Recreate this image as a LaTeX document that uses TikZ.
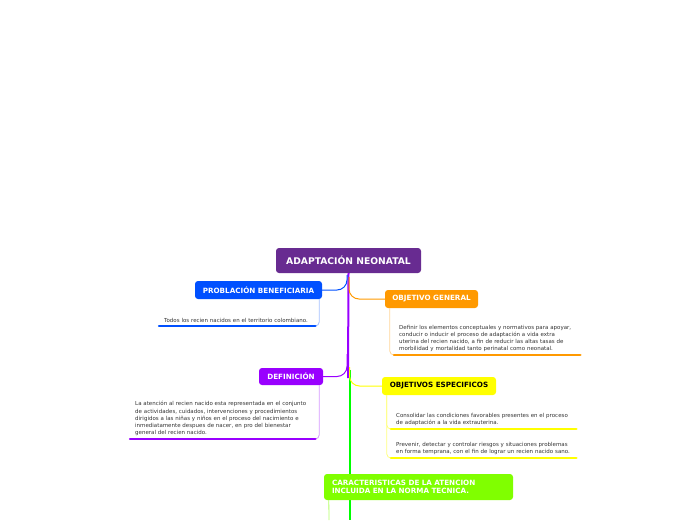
\documentclass[tikz,border=0pt]{standalone}
\usepackage{fontspec}
\setmainfont{DejaVu Sans}
\usetikzlibrary{positioning, calc}

\definecolor{rootcol}{HTML}{682B91}
\definecolor{bluecol}{HTML}{0050FF}
\definecolor{orangecol}{HTML}{FF9900}
\definecolor{violetcol}{HTML}{9900FF}
\definecolor{yellowcol}{HTML}{FFFF00}
\definecolor{limecol}{HTML}{80FF00}
\definecolor{trunkgreen}{HTML}{00FF00}
\definecolor{txtgray}{HTML}{333333}

\begin{document}
\begin{tikzpicture}[
        x=1pt, y=-1pt,
        topic/.style={
            rectangle,
            rounded corners=3pt,
            inner sep=0pt,
            text=white,
            font=\fontsize{7.2}{8.2}\selectfont\bfseries
        },
        note/.style={
            anchor=south west,
            inner xsep=5pt,
            inner ysep=3pt,
            align=left,
            text=txtgray,
            font=\fontsize{5.5}{7.2}\selectfont
        },
        branch/.style={line width=1pt, rounded corners=10pt},
        thinline/.style={line width=0.8pt, rounded corners=4pt},
        underline/.style={line width=2.4pt, line cap=round}
    ]
        \useasboundingbox (0,0) rectangle (696,520);

        % Central topic
        \node[topic, fill=rootcol, minimum width=145pt, minimum height=25pt,
              font=\fontsize{9.2}{10}\selectfont\bfseries] (root) at (348.5,260.5) {ADAPTACIÓN NEONATAL};

        % Trunk
        \coordinate (tpend) at (348,378);
        \coordinate (tgtop) at (349.5,370);
        \coordinate (tgend) at (349.5,520);
        \draw[line width=2pt, draw=violetcol] (root.south) -- (tpend);
        \draw[line width=2pt, draw=trunkgreen] (tgtop) -- (tgend);

        % Branch starts on the trunk
        \coordinate (sb) at (347,275);
        \coordinate (so) at (349,277);
        \coordinate (sd) at (347,354);
        \coordinate (sy) at (349.5,367);

        % Problacion beneficiaria
        \node[topic, fill=bluecol, minimum width=127pt, minimum height=18pt] (pb) at (258.5,290) {PROBLACIÓN BENEFICIARIA};
        \draw[branch, bluecol] (sb) |- (pb.east);
        \node[note, text width=146pt] (pbtxt) at (159,326) {Todos los recien nacidos en el territorio colombiano.};
        \draw[thinline, bluecol!35] ([xshift=-3pt]pb.south east) |- (pbtxt.south east);
        \draw[underline, bluecol] (pbtxt.south west) -- (pbtxt.south east);

        % Objetivo general
        \node[topic, fill=orangecol, minimum width=93pt, minimum height=18pt] (og) at (431.5,299) {OBJETIVO GENERAL};
        \draw[branch, orangecol] (so) |- (og.west);
        \node[note, text width=176pt] (ogtxt) at (394,355) {Definir los elementos conceptuales y normativos para apoyar,\\conducir o inducir el proceso de adaptación a vida extra\\uterina del recien nacido, a fin de reducir las altas tasas de\\morbilidad y mortalidad tanto perinatal como neonatal.};
        \draw[thinline, orangecol!40] ([xshift=5pt]og.south west) |- (ogtxt.south west);
        \draw[underline, orangecol] (ogtxt.south west) -- (ogtxt.south east);

        % Definicion
        \node[topic, fill=violetcol, minimum width=64pt, minimum height=17pt] (def) at (291,376.5) {DEFINICIÓN};
        \draw[branch, violetcol] (sd) |- (def.east);
        \node[note, text width=175pt] (deftxt) at (130,439) {La atención al recien nacido esta representada en el conjunto\\de actividades, cuidados, intervenciones y procedimientos\\dirigidos a las niñas y niños en el proceso del nacimiento e\\inmediatamente despues de nacer, en pro del bienestar\\general del recien nacido.};
        \draw[thinline, violetcol!40] ([xshift=-4pt]def.south east) |- (deftxt.south east);
        \draw[underline, violetcol] (deftxt.south west) -- (deftxt.south east);

        % Objetivos especificos
        \node[topic, fill=yellowcol, text=black, minimum width=114pt, minimum height=18pt] (oe) at (439,386) {OBJETIVOS ESPECIFICOS};
        \draw[branch, yellowcol] (sy) |- (oe.west);
        \node[note, text width=175pt] (oe1) at (391,429) {Consolidar las condiciones favorables presentes en el proceso\\de adaptación a la vida extrauterina.};
        \node[note, text width=175pt] (oe2) at (391,458) {Prevenir, detectar y controlar riesgos y situaciones problemas\\en forma temprana, con el fin de lograr un recien nacido sano.};
        \draw[thinline, yellowcol!50] ([xshift=5pt]oe.south west) |- (oe1.south west);
        \draw[thinline, yellowcol!50] ([xshift=5pt]oe.south west) |- (oe2.south west);
        \draw[underline, yellowcol] (oe1.south west) -- (oe1.south east);
        \draw[underline, yellowcol] (oe2.south west) -- (oe2.south east);

        % Caracteristicas de la atencion
        \node[topic, fill=limecol, minimum width=189pt, minimum height=26pt, align=left,
              text width=173pt, inner xsep=8pt] (car) at (418.5,487) {CARACTERISTICAS DE LA ATENCION\\INCLUIDA EN LA NORMA TECNICA.};
        \coordinate (cend) at (329,520);
        \draw[line width=0.8pt, limecol!60] ([xshift=5pt]car.south west) -- (cend);

    \end{tikzpicture}
\end{document}
